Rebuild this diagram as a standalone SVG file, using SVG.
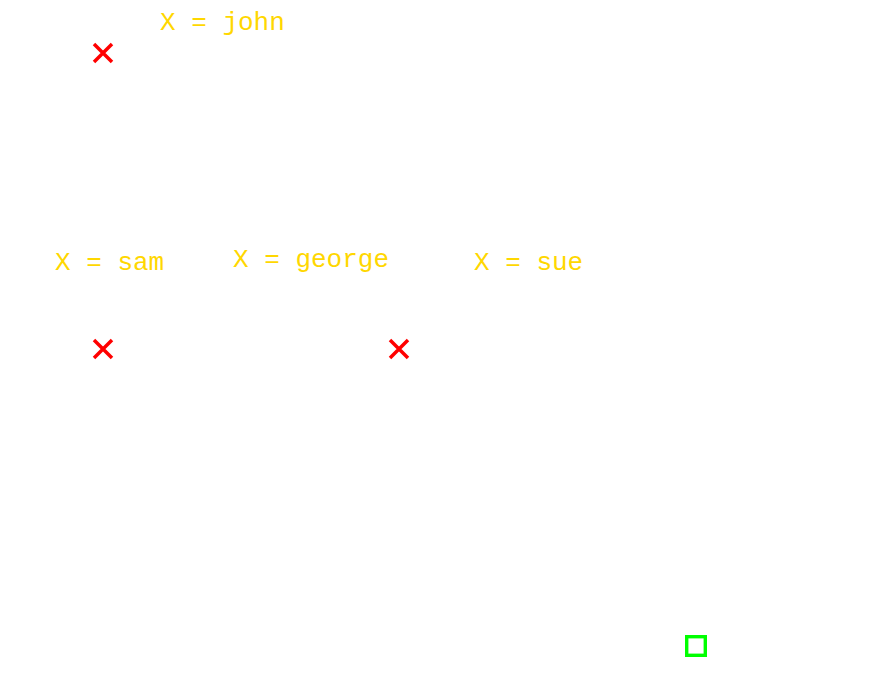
<svg xmlns="http://www.w3.org/2000/svg" width="890" height="691" viewBox="0 0 890 691">
<style>
.lbl{font-family:"Liberation Mono","DejaVu Sans Mono",monospace;font-size:26px;fill:#FFD700}
.x{stroke:#FF0000;stroke-width:3.5;fill:none}
.sq{stroke:#00FF00;stroke-width:3.4;fill:none}
</style>
<rect width="890" height="691" fill="#fff"/>
<g id="connectors"></g>
<g id="n1"><path class="x" d="M94,44L112,62M112,44L94,62"/><text class="lbl" x="160" y="30">X = john</text></g>
<g id="n2"><path class="x" d="M94,340L112,358M112,340L94,358"/><text class="lbl" x="55" y="270">X = sam</text></g>
<g id="n3"><path class="x" d="M390,340L408,358M408,340L390,358"/><text class="lbl" x="233" y="267">X = george</text></g>
<g id="n4"><text class="lbl" x="474" y="270">X = sue</text></g>
<g id="n5"><rect class="sq" x="686.7" y="636.7" width="18.6" height="18.6"/></g>
</svg>
